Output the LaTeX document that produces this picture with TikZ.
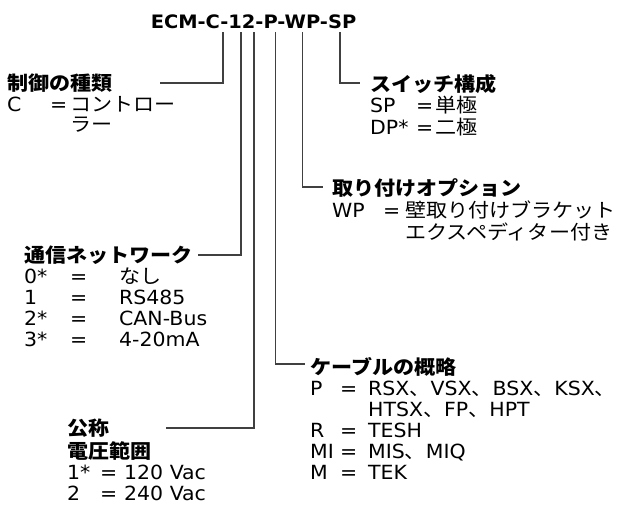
\documentclass[tikz,border=0pt]{standalone}
\usepackage{fontspec}
\setmainfont{DejaVu Sans}[FakeStretch=1.05]
\newfontfamily\jpfont{Noto Sans CJK JP}[FakeStretch=1.08]
\newcommand{\ja}[1]{{\jpfont #1}}

\begin{document}
\begin{tikzpicture}[x=1pt, y=-1pt,
  lead/.style={draw=black!75, line width=1.2pt},
  block/.style={anchor=base west, inner sep=0pt, font=\fontsize{19.5}{#1}\selectfont},
  block/.default=21,
  codetitle/.style={anchor=base, inner sep=0pt, font=\fontsize{18.5}{21}\selectfont\bfseries}]

  \useasboundingbox (0,0) rectangle (620,509);

  % Define nodes
  \node[codetitle] (code) at (253.5,28) {ECM-C-12-P-WP-SP};

  \node[block=19] (ctrl) at (7,90.5) {\begin{tabular}[t]{@{}p{43pt}@{}p{20pt}@{}l@{}}
    \multicolumn{3}{@{}l@{}}{\bfseries\ja{制御の種類}}\\
    C & = & \ja{コントロー}\\
      &   & \ja{ラー}
  \end{tabular}};

  \node[block] (comm) at (24,262) {\begin{tabular}[t]{@{}p{46pt}@{}p{49pt}@{}l@{}}
    \multicolumn{3}{@{}l@{}}{\bfseries\ja{通信ネットワーク}}\\
    0* & = & \ja{なし}\\
    1  & = & RS485\\
    2* & = & CAN-Bus\\
    3* & = & 4-20mA
  \end{tabular}};

  \node[block] (volt) at (67,435.5) {\begin{tabular}[t]{@{}p{33pt}@{}p{24pt}@{}l@{}}
    \multicolumn{3}{@{}l@{}}{\bfseries\ja{公称}}\\
    \multicolumn{3}{@{}l@{}}{\bfseries\ja{電圧範囲}}\\
    1* & = & 120 Vac\\
    2  & = & 240 Vac
  \end{tabular}};

  \node[block] (cable) at (310,374) {\begin{tabular}[t]{@{}p{30pt}@{}p{28pt}@{}l@{}}
    \multicolumn{3}{@{}l@{}}{\bfseries\ja{ケーブルの概略}}\\
    P  & = & RSX\ja{、}VSX\ja{、}BSX\ja{、}KSX\ja{、}\\
       &   & HTSX\ja{、}FP\ja{、}HPT\\
    R  & = & TESH\\
    MI & = & MIS\ja{、}MIQ\\
    M  & = & TEK
  \end{tabular}};

  \node[block=19] (mount) at (332,195) {\begin{tabular}[t]{@{}p{51pt}@{}p{22pt}@{}l@{}}
    \multicolumn{3}{@{}l@{}}{\bfseries\ja{取り付けオプション}}\\
    WP & = & \ja{壁取り付けブラケット}\\
       &   & \ja{エクスペディター付き}
  \end{tabular}};

  \node[block=18] (switch) at (370,91) {\begin{tabular}[t]{@{}p{46pt}@{}p{19pt}@{}l@{}}
    \multicolumn{3}{@{}l@{}}{\bfseries\ja{スイッチ構成}}\\
    SP  & = & \ja{単極}\\
    DP* & = & \ja{二極}
  \end{tabular}};

  % Define edges
  \coordinate (ctrl-up) at (223,32);
  \coordinate (ctrl-in) at (160,83);
  \coordinate (comm-up) at (241,32);
  \coordinate (comm-in) at (198,255);
  \coordinate (volt-up) at (254,32);
  \coordinate (volt-in) at (166,428);
  \coordinate (cable-up) at (275.5,32);
  \coordinate (cable-in) at (305,364);
  \coordinate (mount-up) at (302.5,32);
  \coordinate (mount-in) at (323,187);
  \coordinate (switch-up) at (340,32);
  \coordinate (switch-in) at (360,83);

  \draw[lead] (ctrl-up) |- (ctrl-in);
  \draw[lead] (comm-up) |- (comm-in);
  \draw[lead] (volt-up) |- (volt-in);
  \draw[lead] (cable-up) |- (cable-in);
  \draw[lead] (mount-up) |- (mount-in);
  \draw[lead] (switch-up) |- (switch-in);
\end{tikzpicture}
\end{document}
